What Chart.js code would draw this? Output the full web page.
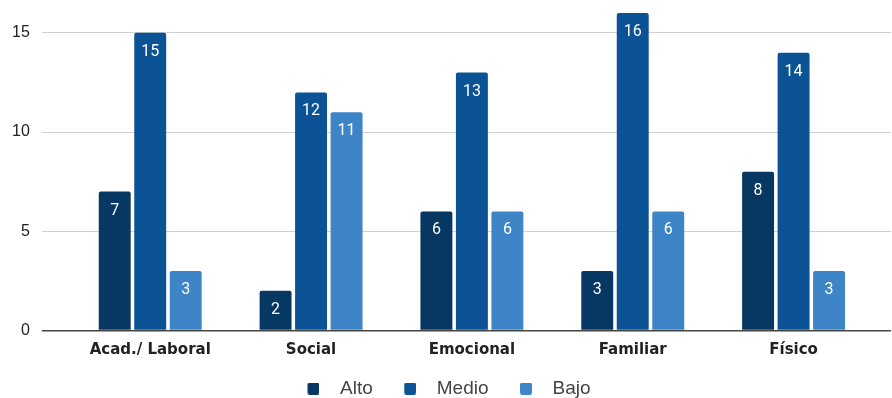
<!DOCTYPE html>
<html>
<head>
<meta charset="utf-8">
<script src="https://cdn.jsdelivr.net/npm/chart.js@4"></script>
<style>
  html, body { margin: 0; padding: 0; background: #fff; }
  #wrap { width: 892px; height: 398px; }
</style>
</head>
<body>
<div id="wrap"><canvas id="barras"></canvas></div>
<script>
/* Gráfico de barras agrupadas */
const categorias = ['Acad./ Laboral', 'Social', 'Emocional', 'Familiar', 'Físico'];
const alto = [7, 2, 6, 3, 8];
const medio = [15, 12, 13, 16, 14];
const bajo = [3, 11, 6, 6, 3];
const ticksY = [0, 5, 10, 15];

const colorAlto = '#073763';
const colorMedio = '#0b5394';
const colorBajo = '#3d85c6';

// cuadrito de la leyenda (lado derecho del lienzo)
function cuadrito(color) {
  const c = document.createElement('canvas');
  c.width = 24;
  c.height = 12;
  const g = c.getContext('2d');
  g.fillStyle = color;
  g.beginPath();
  g.roundRect(12, 0, 12, 12, 2);
  g.fill();
  return c;
}

// valores en blanco dentro de cada barra
const etiquetas = {
  id: 'etiquetas',
  afterDatasetsDraw(chart) {
    const ctx = chart.ctx;
    ctx.save();
    ctx.fillStyle = '#fff';
    ctx.font = '16px Roboto';
    ctx.textAlign = 'center';
    ctx.textBaseline = 'middle';
    chart.data.datasets.forEach((ds, i) => {
      chart.getDatasetMeta(i).data.forEach((bar, j) => {
        ctx.fillText(ds.data[j], bar.x, bar.y + 19);
      });
    });
    ctx.restore();
  }
};

const colorGrid = (c) => c.tick && c.tick.value === 0 ? '#444' : '#d0d0d0';
const anchoGrid = (c) => c.tick && c.tick.value === 0 ? 1.5 : 1;
const sinRelleno = (s) => { s.paddingTop = 0; s.paddingBottom = 0; s.paddingLeft = 0; s.paddingRight = 0; };

const data = {
  labels: categorias,
  datasets: [
    { label: 'Alto', data: alto, backgroundColor: colorAlto, pointStyle: cuadrito(colorAlto) },
    { label: 'Medio', data: medio, backgroundColor: colorMedio, pointStyle: cuadrito(colorMedio) },
    { label: 'Bajo', data: bajo, backgroundColor: colorBajo, pointStyle: cuadrito(colorBajo) }
  ]
};

new Chart(document.getElementById('barras'), {
  type: 'bar',
  data: data,
  plugins: [etiquetas],
  options: {
    responsive: true,
    maintainAspectRatio: false,
    animation: false,
    layout: { padding: { left: 0, right: 17, top: 13, bottom: -10 } },
    datasets: {
      bar: {
        categoryPercentage: 0.662,
        barPercentage: 0.9,
        borderRadius: 2,
        borderSkipped: 'start'
      }
    },
    plugins: {
      tooltip: { enabled: false },
      legend: {
        position: 'bottom',
        labels: {
          usePointStyle: true,
          pointStyleWidth: 46,
          boxHeight: 12,
          padding: 8.5,
          color: '#444',
          font: { family: 'Liberation Sans', size: 19 }
        }
      }
    },
    scales: {
      x: {
        afterFit: sinRelleno,
        grid: { display: false, drawTicks: false },
        border: { display: false },
        ticks: {
          padding: 11,
          color: '#222',
          font: { family: 'DejaVu Sans', size: 15, weight: 'bold' }
        }
      },
      y: {
        min: 0,
        max: 16,
        afterFit: sinRelleno,
        afterBuildTicks: (s) => { s.ticks = ticksY.map(v => ({ value: v })); },
        grid: { color: colorGrid, tickColor: colorGrid, lineWidth: anchoGrid, tickLength: 28 },
        border: { display: false },
        ticks: {
          padding: 12,
          color: '#222',
          font: { family: 'Liberation Sans', size: 16 }
        }
      },
      yDer: {
        position: 'right',
        min: 0,
        max: 16,
        afterFit: (s) => { sinRelleno(s); s.width = 1; },
        afterBuildTicks: (s) => { s.ticks = ticksY.map(v => ({ value: v })); },
        grid: { drawOnChartArea: false, tickColor: colorGrid, lineWidth: anchoGrid, tickLength: 17 },
        border: { display: false },
        ticks: { display: false }
      }
    }
  }
});
</script>
</body>
</html>
